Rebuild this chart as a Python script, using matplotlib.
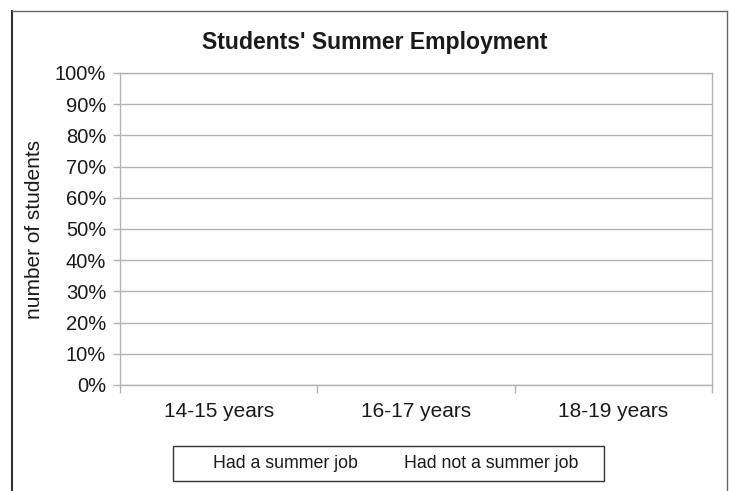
import numpy as np
import matplotlib.pyplot as plt
from matplotlib.lines import Line2D
from matplotlib.patches import Rectangle

plt.rcParams['font.family'] = ['Liberation Sans', 'DejaVu Sans']

# Data (the chart shows no filled bars -> all values read as zero)
categories = ['14-15 years', '16-17 years', '18-19 years']
had_job = [0, 0, 0]
had_not_job = [0, 0, 0]
series_names = ['Had a summer job', 'Had not a summer job']
y_ticks = [0, 10, 20, 30, 40, 50, 60, 70, 80, 90, 100]

grid_col = '#b3b3b3'
W, H = 729, 491

fig = plt.figure(figsize=(W / 100, H / 100), dpi=100)
ax = fig.add_axes([120 / W, 1 - 385 / H, 592 / W, 312 / H])

x = np.arange(len(categories))
b1 = ax.bar(x, had_job, width=0.6, color='#004586')
b2 = ax.bar(x, had_not_job, width=0.6, bottom=had_job, color='#ff420e')

ax.set_ylim(0, 100)
ax.set_xlim(-0.5, len(categories) - 0.5)
ax.set_yticks(y_ticks)
ax.set_yticklabels([f'{v}%' for v in y_ticks])
ax.yaxis.grid(True, color=grid_col, linewidth=1)
ax.set_axisbelow(True)

# category boundaries as major ticks, labels on minor ticks
ax.set_xticks(np.arange(len(categories) + 1) - 0.5)
ax.set_xticklabels([])
ax.set_xticks(x, minor=True)
ax.set_xticklabels(categories, minor=True)
ax.tick_params(axis='x', which='major', length=5.8, color=grid_col, width=1)
ax.tick_params(axis='x', which='minor', length=0, pad=12, labelsize=15, labelcolor='#1a1a1a')
ax.tick_params(axis='y', length=5, color=grid_col, width=1, pad=5, labelsize=14.5, labelcolor='#1a1a1a')

for s in ax.spines.values():
    s.set_color(grid_col)
    s.set_linewidth(1)

ax.set_ylabel('number of students', fontsize=15, color='#1a1a1a', labelpad=8)
fig.text(375 / W, 1 - 43 / H, "Students' Summer Employment", fontsize=16.6,
         fontweight='bold', ha='center', va='center', color='#1a1a1a')

# legend: texts from matplotlib, frame drawn as a separate box
leg = fig.legend([b1, b2], series_names, loc='center left', ncol=2,
                 bbox_to_anchor=(173 / W, 1 - 463.5 / H),
                 fontsize=12.8, frameon=False, borderaxespad=0,
                 handlelength=1.0, handletextpad=0.8, columnspacing=0.8,
                 borderpad=0.45)
for h in leg.legend_handles:
    h.set_visible(False)
for t in leg.get_texts():
    t.set_color('#1a1a1a')
fig.add_artist(Rectangle((173 / W, 1 - 481 / H), 431 / W, 35 / H, fill=False,
                         edgecolor='#333333', lw=1, transform=fig.transFigure))

# outer chart border (left, top, right; open at the bottom)
bx0, bx1, by = 12 / W, 727 / W, 1 - 11 / H
fig.add_artist(Line2D([bx0, bx0], [0, by], color='#333333', lw=1.5, transform=fig.transFigure))
fig.add_artist(Line2D([bx0, bx1], [by, by], color='#666666', lw=1, transform=fig.transFigure))
fig.add_artist(Line2D([bx1, bx1], [0, by], color='#666666', lw=1, transform=fig.transFigure))

fig.savefig('out.png', dpi=100)
